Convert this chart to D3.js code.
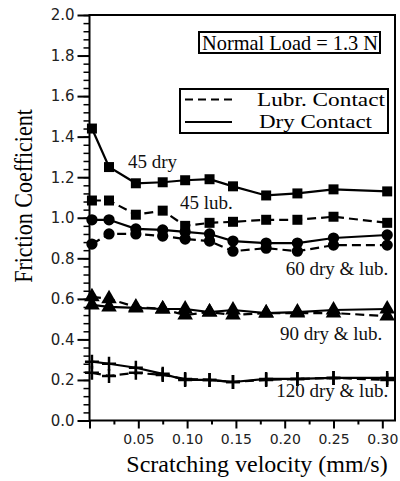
<!DOCTYPE html>
<html>
<head>
<meta charset="utf-8">
<script src="https://cdn.jsdelivr.net/npm/d3@7"></script>
<style>
  body { margin: 0; background: #fff; }
  svg { display: block; }
</style>
</head>
<body>
<div id="chart"></div>
<script>
// scratching velocity (mm/s) of each measurement
const velocity = [0.0025, 0.02, 0.0475, 0.075, 0.098, 0.123, 0.147, 0.181, 0.213, 0.25, 0.305];

// friction coefficient per tip angle, dry and lubricated
const dry45  = [1.44, 1.25, 1.17, 1.175, 1.185, 1.19, 1.155, 1.11, 1.12, 1.14, 1.13];
const lub45  = [1.085, 1.085, 1.015, 1.035, 0.96, 0.975, 0.98, 0.99, 0.99, 1.005, 0.975];
const dry60  = [0.99, 0.99, 0.945, 0.94, 0.93, 0.92, 0.885, 0.875, 0.875, 0.9, 0.915];
const lub60  = [0.87, 0.92, 0.92, 0.91, 0.895, 0.885, 0.835, 0.85, 0.835, 0.865, 0.865];
const dry90  = [0.57, 0.56, 0.555, 0.55, 0.55, 0.535, 0.545, 0.53, 0.535, 0.545, 0.55];
const lub90  = [0.61, 0.60, 0.56, 0.55, 0.52, 0.535, 0.52, 0.53, 0.53, 0.53, 0.515];
const dry120 = [0.29, 0.28, 0.26, 0.23, 0.20, 0.20, 0.19, 0.205, 0.205, 0.21, 0.21];
const lub120 = [0.235, 0.22, 0.235, 0.225, 0.205, 0.20, 0.19, 0.20, 0.205, 0.21, 0.20];

const yTicks = [0, 0.2, 0.4, 0.6, 0.8, 1.0, 1.2, 1.4, 1.6, 1.8, 2.0];
const xTicks = [0.05, 0.10, 0.15, 0.20, 0.25, 0.30];

const labels = ["45 dry", "45 lub.", "60 dry & lub.", "90 dry & lub.", "120 dry & lub."];
const legendLabels = ["Lubr. Contact", "Dry Contact"];
const loadLabel = "Normal Load = 1.3 N";

const series = [
  { values: dry45,  dashed: false, marker: "square" },
  { values: lub45,  dashed: true,  marker: "square" },
  { values: dry60,  dashed: false, marker: "circle" },
  { values: lub60,  dashed: true,  marker: "circle" },
  { values: dry90,  dashed: false, marker: "triangle" },
  { values: lub90,  dashed: true,  marker: "triangle" },
  { values: dry120, dashed: false, marker: "cross" },
  { values: lub120, dashed: true,  marker: "cross" }
];

const width = 400, height = 481;
const serif = "'Liberation Serif', 'Times New Roman', serif";
const sans = "'DejaVu Sans', sans-serif";

const svg = d3.select("#chart").append("svg")
  .attr("width", width)
  .attr("height", height);

const x = d3.scaleLinear().domain([0, 0.313]).range([89.5, 395]);
const y = d3.scaleLinear().domain([0, 2]).range([420.5, 15]);

// frame
svg.append("rect")
  .attr("x", x(0)).attr("y", y(2))
  .attr("width", x(0.313) - x(0)).attr("height", y(0) - y(2))
  .attr("fill", "none").attr("stroke", "#000").attr("stroke-width", 2);

// y axis: majors labelled, minors every 0.04
const yAxis = svg.append("g").attr("transform", `translate(${x(0)},0)`);
yAxis.call(d3.axisLeft(y).tickValues(d3.range(0, 2.001, 0.04)).tickSize(6).tickFormat(""))
  .call(g => g.select(".domain").remove())
  .call(g => g.selectAll("line").attr("stroke-width", 1.5));
yAxis.append("g")
  .call(d3.axisLeft(y).tickValues(yTicks).tickSize(12).tickPadding(3).tickFormat(d3.format(".1f")))
  .call(g => g.select(".domain").remove())
  .call(g => g.selectAll("line").attr("stroke-width", 2))
  .call(g => g.selectAll("text").attr("font-family", sans).attr("font-size", 15).attr("fill", "#222"));

// x axis: majors every 0.05, minors every 0.025
const xAxis = svg.append("g").attr("transform", `translate(0,${y(0)})`);
xAxis.call(d3.axisBottom(x).tickValues(d3.range(0.025, 0.31, 0.05)).tickSize(4).tickFormat(""))
  .call(g => g.select(".domain").remove())
  .call(g => g.selectAll("line").attr("stroke-width", 2));
xAxis.append("g")
  .call(d3.axisBottom(x).tickValues([0].concat(xTicks)).tickSize(8).tickPadding(6)
    .tickFormat(d => d === 0 ? "" : d3.format(".2f")(d)))
  .call(g => g.select(".domain").remove())
  .call(g => g.selectAll("line").attr("stroke-width", 2))
  .call(g => g.selectAll("text").attr("font-family", sans).attr("font-size", 14).attr("fill", "#222"));

// lines
const line = d3.line()
  .x((d, i) => x(velocity[i]))
  .y(d => y(d));

series.forEach(s => {
  svg.append("path")
    .datum(s.values)
    .attr("fill", "none")
    .attr("stroke", "#000")
    .attr("stroke-width", 2.2)
    .attr("stroke-dasharray", s.dashed ? "9,5" : null)
    .attr("d", line);
});

// markers
const symbols = {
  square: d3.symbol().type(d3.symbolSquare).size(100),
  circle: d3.symbol().type(d3.symbolCircle).size(100),
  triangle: d3.symbol().type(d3.symbolTriangle).size(105)
};

series.forEach(s => {
  const g = svg.append("g");
  s.values.forEach((v, i) => {
    const cx = x(velocity[i]), cy = y(v);
    if (s.marker === "cross") {
      g.append("path")
        .attr("d", `M${cx - 7},${cy}H${cx + 7}M${cx},${cy - 7}V${cy + 7}`)
        .attr("stroke", "#000").attr("stroke-width", 2.5);
    } else {
      g.append("path")
        .attr("transform", `translate(${cx},${cy})`)
        .attr("d", symbols[s.marker]())
        .attr("fill", "#000");
    }
  });
});

// curve labels
const labelPos = [
  { x: 0.0395, y: 1.245, anchor: "start" },
  { x: 0.0927, y: 1.042, anchor: "start" },
  { x: 0.306,  y: 0.717, anchor: "end" },
  { x: 0.300,  y: 0.397, anchor: "end" },
  { x: 0.306,  y: 0.116, anchor: "end" }
];
labels.forEach((t, i) => {
  svg.append("text")
    .attr("x", x(labelPos[i].x)).attr("y", y(labelPos[i].y))
    .attr("text-anchor", labelPos[i].anchor)
    .attr("font-family", serif).attr("font-size", 19)
    .attr("fill", "#111")
    .text(t);
});

// load box
svg.append("rect")
  .attr("x", 199).attr("y", 32).attr("width", 181).attr("height", 21)
  .attr("fill", "#fff").attr("stroke", "#000").attr("stroke-width", 2);
svg.append("text")
  .attr("x", 202).attr("y", 50)
  .attr("font-family", serif).attr("font-size", 21)
  .attr("textLength", 176).attr("lengthAdjust", "spacingAndGlyphs")
  .text(loadLabel);

// legend
const legend = svg.append("g");
legend.append("rect")
  .attr("x", 180).attr("y", 89).attr("width", 208).attr("height", 44)
  .attr("fill", "#fff").attr("stroke", "#000").attr("stroke-width", 2);
legendLabels.forEach((t, i) => {
  const ly = 99.5 + i * 22.5;
  legend.append("line")
    .attr("x1", 185).attr("x2", 232).attr("y1", ly).attr("y2", ly)
    .attr("stroke", "#000").attr("stroke-width", 2)
    .attr("stroke-dasharray", i === 0 ? "8,5" : null);
  legend.append("text")
    .attr("x", 257 + i * 2).attr("y", 106 + i * 22)
    .attr("font-family", serif).attr("font-size", 19)
    .attr("textLength", i === 0 ? 128 : 113).attr("lengthAdjust", "spacingAndGlyphs")
    .text(t);
});

// axis titles
svg.append("text")
  .attr("x", 257).attr("y", 472)
  .attr("text-anchor", "middle")
  .attr("font-family", serif).attr("font-size", 24)
  .text("Scratching velocity (mm/s)");

svg.append("text")
  .attr("transform", "translate(32,196) rotate(-90) scale(1,1.15)")
  .attr("text-anchor", "middle")
  .attr("font-family", serif).attr("font-size", 22)
  .text("Friction Coefficient");
</script>
</body>
</html>
